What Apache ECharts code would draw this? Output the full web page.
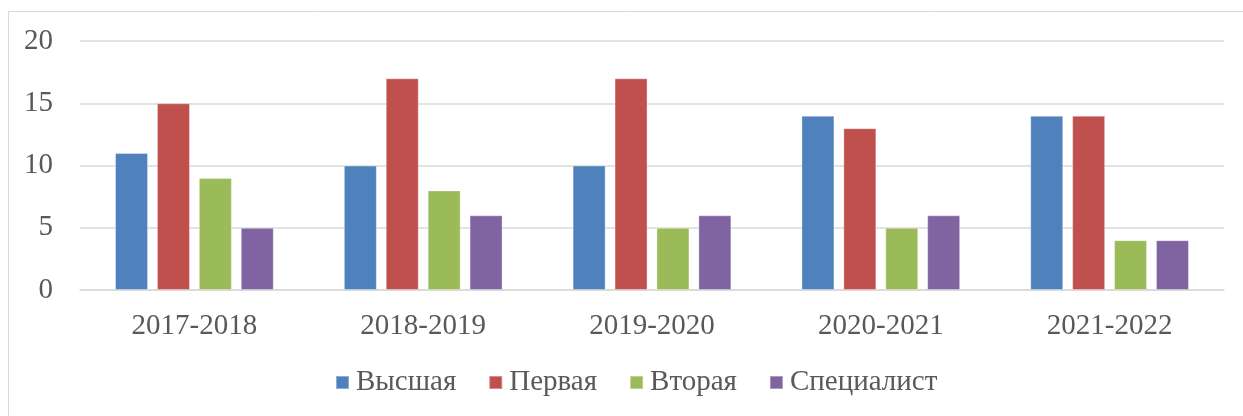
<!DOCTYPE html>
<html>
<head>
<meta charset="utf-8">
<script src="https://cdn.jsdelivr.net/npm/echarts@6/dist/echarts.min.js"></script>
<style>
  html, body { margin: 0; padding: 0; background: #fff; }
  #chart { width: 1243px; height: 416px; }
</style>
</head>
<body>
<div id="chart"></div>
<script>
const years = ["2017-2018", "2018-2019", "2019-2020", "2020-2021", "2021-2022"];
const vysshaya = [11, 10, 10, 14, 14];
const pervaya = [15, 17, 17, 13, 14];
const vtoraya = [9, 8, 5, 5, 4];
const specialist = [5, 6, 6, 6, 4];

const colors = ["#4F81BD", "#C0504D", "#9BBB59", "#8064A2"];
const font = "'Liberation Serif', 'Times New Roman', serif";

const chart = echarts.init(document.getElementById("chart"));

function bar(name, data, color) {
  return {
    name,
    type: "bar",
    data,
    barWidth: 33,
    barGap: "27%",
    itemStyle: { color, borderColor: "rgba(255,255,255,0.35)", borderWidth: 1 },
  };
}

chart.setOption({
  animation: false,
  color: colors,
  graphic: [{
    type: "rect",
    shape: { x: 8.5, y: 11.5, width: 1250, height: 420 },
    style: { fill: "none", stroke: "#d9d9d9", lineWidth: 1 },
    silent: true,
  }],
  grid: { left: 80, right: 19, top: 41, bottom: 126 },
  legend: {
    bottom: 14,
    left: 330,
    icon: "rect",
    itemWidth: 13,
    itemHeight: 13,
    itemGap: 32,
    textStyle: { fontFamily: font, fontSize: 29, color: "#595959", padding: [0, 0, 0, 2] },
  },
  xAxis: {
    type: "category",
    data: years,
    axisLine: { lineStyle: { color: "#d9d9d9", width: 1.5 } },
    axisTick: { show: false },
    axisLabel: { fontFamily: font, fontSize: 29, color: "#595959", margin: 22 },
  },
  yAxis: {
    type: "value",
    min: 0,
    max: 20,
    interval: 5,
    axisLine: { show: false },
    axisTick: { show: false },
    splitLine: { lineStyle: { color: "#d9d9d9", width: 1.5 } },
    axisLabel: { fontFamily: font, fontSize: 29, color: "#595959", margin: 27 },
  },
  series: [
    bar("Высшая", vysshaya, colors[0]),
    bar("Первая", pervaya, colors[1]),
    bar("Вторая", vtoraya, colors[2]),
    bar("Специалист", specialist, colors[3]),
  ],
});
</script>
</body>
</html>
